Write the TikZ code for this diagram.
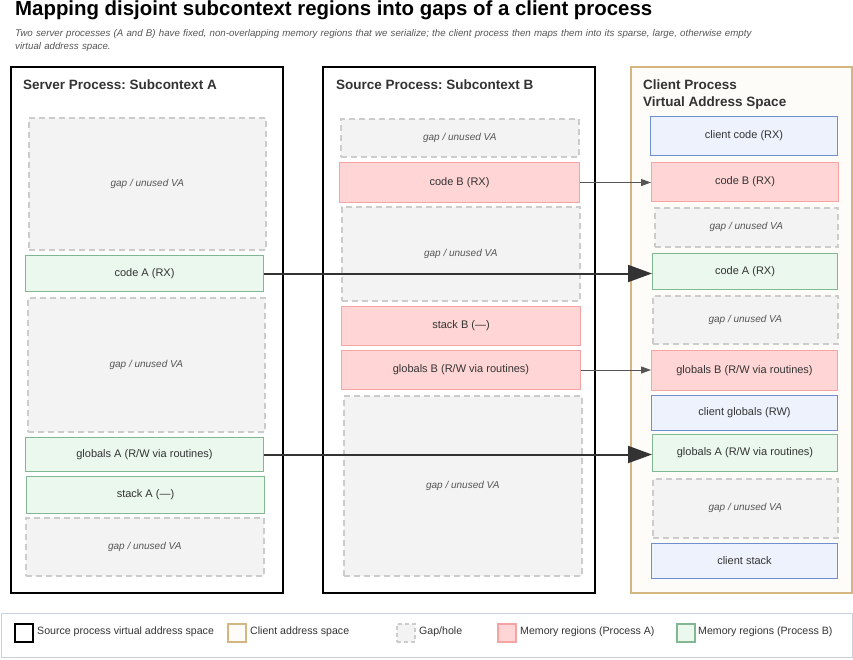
\documentclass[tikz,border=0pt]{standalone}
\usepackage{fontspec}
\setmainfont{Liberation Sans}
\usetikzlibrary{arrows.meta}
\definecolor{ink}{HTML}{333333}
\definecolor{subgray}{HTML}{555555}
\definecolor{gapfill}{HTML}{F3F3F3}
\definecolor{gapline}{HTML}{CCCCCC}
\definecolor{greenfill}{HTML}{EBF8EE}
\definecolor{greenline}{HTML}{82B891}
\definecolor{redfill}{HTML}{FFD5D5}
\definecolor{redline}{HTML}{F5A3A3}
\definecolor{bluefill}{HTML}{EDF2FD}
\definecolor{blueline}{HTML}{6F8FCF}
\definecolor{clientfill}{HTML}{FDFCF8}
\definecolor{clientline}{HTML}{D6B680}
\definecolor{legendline}{HTML}{C8D0DC}
\tikzset{>=stealth}
\frenchspacing

\begin{document}
\begin{tikzpicture}[x=1pt,y=-1pt,
  region/.style={draw, line width=1pt, anchor=north west, inner sep=0pt, text=ink, font=\fontsize{11}{13}\selectfont},
  gapbox/.style={region, draw=gapline, fill=gapfill, dash pattern=on 6pt off 4pt, line width=1.5pt, text=subgray, font=\fontsize{10}{12}\selectfont\itshape},
  greenbox/.style={region, draw=greenline, fill=greenfill},
  redbox/.style={region, draw=redline, fill=redfill},
  bluebox/.style={region, draw=blueline, fill=bluefill},
  panel/.style={draw=black, line width=1.8pt, anchor=north west, inner sep=0pt},
  ptitle/.style={anchor=west, inner sep=0pt, font=\fontsize{13.5}{17}\selectfont\bfseries, text=ink},
  bigmap/.style={draw=ink, line width=2pt, -{Triangle[length=24pt,width=17pt]}},
  smallmap/.style={draw=subgray, line width=1pt, -{Triangle[length=10pt,width=7pt]}},
  swatch/.style={draw, line width=1.5pt, anchor=north west, inner sep=0pt, minimum width=18pt, minimum height=18pt},
  ltext/.style={anchor=west, inner sep=0pt, text=ink, font=\fontsize{10.6}{12}\selectfont}]
\useasboundingbox[fill=white] (0,0) rectangle (853,659);

\node[anchor=west, inner sep=0pt, font=\fontsize{20.4}{23}\selectfont\bfseries] (title) at (15,10.5) {Mapping disjoint subcontext regions into gaps of a client process};
\node[anchor=north west, inner sep=0pt, text width=790pt, align=left, text=subgray, font=\fontsize{9.7}{13}\selectfont\itshape] (subtitle) at (15,29) {Two server processes (A and B) have fixed, non-overlapping memory regions that we serialize; the client process then maps them into its sparse, large, otherwise empty\\virtual address space.};

\node[panel, minimum width=272pt, minimum height=526pt] (procA) at (10,66) {};
\node[panel, minimum width=272pt, minimum height=526pt] (procB) at (322,66) {};
\node[panel, draw=clientline, fill=clientfill, line width=1.5pt, minimum width=221pt, minimum height=526pt] (client) at (630,66) {};
\node[ptitle] (titleA) at (23,85) {Server Process: Subcontext A};
\node[ptitle] (titleB) at (336,85) {Source Process: Subcontext B};
\node[ptitle, align=left, anchor=north west] (titleC) at (643,80) {Client Process\\Virtual Address Space};

\node[gapbox, minimum width=237pt, minimum height=132pt] (gapA1) at (28,117) {gap / unused VA};
\node[greenbox, minimum width=238pt, minimum height=36pt] (codeA) at (25,255) {code A (RX)};
\node[gapbox, minimum width=237pt, minimum height=134pt] (gapA2) at (27,297) {gap / unused VA};
\node[greenbox, minimum width=238pt, minimum height=34pt] (globalsA) at (25,437) {globals A (R/W via routines)};
\node[greenbox, minimum width=238pt, minimum height=37pt] (stackA) at (26,476) {stack A (---)};
\node[gapbox, minimum width=238pt, minimum height=58pt] (gapA3) at (25,517) {gap / unused VA};

\node[gapbox, minimum width=238pt, minimum height=38pt] (gapB1) at (340,118) {gap / unused VA};
\node[redbox, minimum width=240pt, minimum height=40pt] (codeB) at (339,162) {code B (RX)};
\node[gapbox, minimum width=238pt, minimum height=94pt] (gapB2) at (341,206) {gap / unused VA};
\node[redbox, minimum width=239pt, minimum height=39pt] (stackB) at (341,306) {stack B (---)};
\node[redbox, minimum width=239pt, minimum height=39pt] (globalsB) at (341,350) {globals B (R/W via routines)};
\node[gapbox, minimum width=238pt, minimum height=180pt] (gapB3) at (343,395) {gap / unused VA};

\node[bluebox, minimum width=187pt, minimum height=39pt] (ccode) at (650,116) {client code (RX)};
\node[redbox, minimum width=187pt, minimum height=39pt] (ccodeB) at (651,162) {code B (RX)};
\node[gapbox, minimum width=183pt, minimum height=39pt] (cgap1) at (654,207) {gap / unused VA};
\node[greenbox, minimum width=185pt, minimum height=36pt] (ccodeA) at (652,253) {code A (RX)};
\node[gapbox, minimum width=185pt, minimum height=48pt] (cgap2) at (652,295) {gap / unused VA};
\node[redbox, minimum width=186pt, minimum height=40pt] (cglobalsB) at (651,350) {globals B (R/W via routines)};
\node[bluebox, minimum width=186pt, minimum height=35pt] (cglobals) at (651,395) {client globals (RW)};
\node[greenbox, minimum width=185pt, minimum height=37pt] (cglobalsA) at (652,434) {globals A (R/W via routines)};
\node[gapbox, minimum width=185pt, minimum height=59pt] (cgap3) at (652,478) {gap / unused VA};
\node[bluebox, minimum width=186pt, minimum height=35pt] (cstack) at (651,543) {client stack};

\draw[smallmap] (codeB.east) -- (codeB.east -| ccodeB.west);
\draw[bigmap] (codeA.east) -- (codeA.east -| ccodeA.west);
\draw[smallmap] (globalsB.east) -- (globalsB.east -| cglobalsB.west);
\draw[bigmap] (globalsA.east) -- (globalsA.east -| cglobalsA.west);

\node[draw=legendline, line width=1pt, anchor=north west, inner sep=0pt, minimum width=851pt, minimum height=44pt] (legend) at (1,613) {};
\node[swatch, draw=black, fill=white] (swA) at (14,623) {};
\node[ltext] (lgA) at (37,632) {Source process virtual address space};
\node[swatch, draw=clientline, fill=clientfill] (swC) at (227,623) {};
\node[ltext] (lgC) at (250,632) {Client address space};
\node[swatch, draw=gapline, fill=gapfill, dash pattern=on 4pt off 3pt] (swG) at (396,623) {};
\node[ltext] (lgG) at (419,632) {Gap/hole};
\node[swatch, draw=redline, fill=redfill] (swR) at (497,623) {};
\node[ltext] (lgR) at (520,632) {Memory regions (Process A)};
\node[swatch, draw=greenline, fill=greenfill] (swN) at (676,623) {};
\node[ltext] (lgN) at (698,632) {Memory regions (Process B)};
\end{tikzpicture}
\end{document}
